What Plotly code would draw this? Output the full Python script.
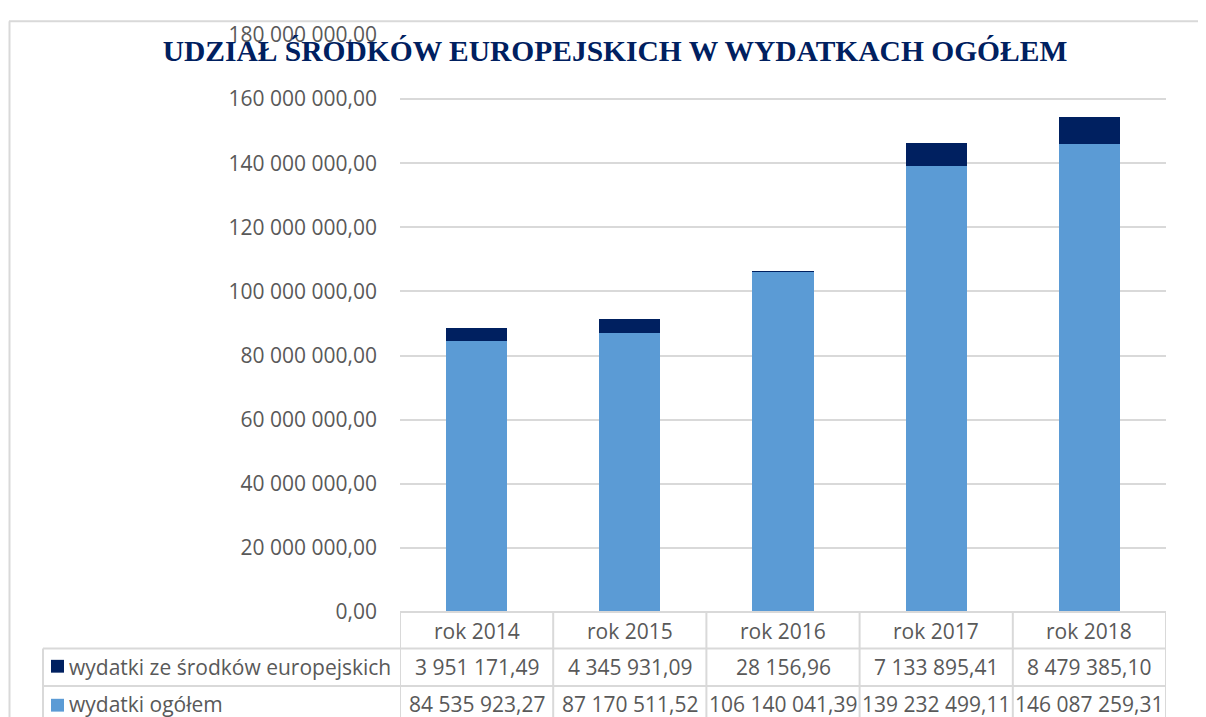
import plotly.graph_objects as go

categories = ["rok 2014", "rok 2015", "rok 2016", "rok 2017", "rok 2018"]
eu_values = [3951171.49, 4345931.09, 28156.96, 7133895.41, 8479385.10]
total_values = [84535923.27, 87170511.52, 106140041.39, 139232499.11, 146087259.31]
series_names = ["wydatki ze środków europejskich", "wydatki ogółem"]
title_text = "UDZIAŁ ŚRODKÓW EUROPEJSKICH W WYDATKACH OGÓŁEM"

C_EU = "#002060"
C_TOT = "#5B9BD5"
GRID = "#D9D9D9"
TXT = "#595959"
FONT = "Open Sans"
FS = 21

# the page puts the figure 8px in from the top-left corner of the window
OFF = 8
W, H = 1206, 717
PL, PR, PT, PB = 400 - OFF, 1166 - OFF, 27 - OFF, 612 - OFF  # plot area in figure px
ML, MR, MT, MB = PL, W - PR, PT, H - PB
PH = PB - PT
PW = PR - PL


def py(ref_y):
    # reference-window pixel y -> paper y
    return (PB - (ref_y - OFF)) / PH


def px(ref_x):
    return ((ref_x - OFF) - PL) / PW


def fmt(v):
    return f"{v:,.2f}".replace(",", " ").replace(".", ",")


fig = go.Figure()
fig.add_trace(go.Bar(x=categories, y=total_values, name=series_names[1],
                     marker=dict(color=C_TOT, line=dict(width=0)), width=0.4))
fig.add_trace(go.Bar(x=categories, y=eu_values, name=series_names[0],
                     marker=dict(color=C_EU, line=dict(width=0)), width=0.4))

shapes = []
annotations = []
n = len(categories)
line = dict(color=GRID, width=2)

# outer chart border
shapes.append(dict(type="line", xref="paper", yref="paper", x0=px(9), x1=px(W + 20),
                   y0=py(13), y1=py(13), line=line))
shapes.append(dict(type="line", xref="paper", yref="paper", x0=px(9.5), x1=px(9.5),
                   y0=py(13), y1=py(H + 20), line=line))

# data table grid
y_top, y_r1, y_r2, y_bot = py(612), py(649), py(687), py(H + 20)
x_left = px(43)
shapes.append(dict(type="line", xref="x", yref="paper", x0=-0.5, x1=n - 0.5,
                   y0=y_top, y1=y_top, line=line))
for yy in (y_r1, y_r2):
    shapes.append(dict(type="line", xref="paper", yref="paper", x0=x_left, x1=1,
                       y0=yy, y1=yy, line=line))
for i in range(n + 1):
    shapes.append(dict(type="line", xref="x", yref="paper", x0=i - 0.5, x1=i - 0.5,
                       y0=y_top, y1=y_bot, line=line))
shapes.append(dict(type="line", xref="paper", yref="paper", x0=x_left, x1=x_left,
                   y0=y_r1, y1=y_bot, line=line))

# legend keys
for yc, col in ((667, C_EU), (706.5, C_TOT)):
    shapes.append(dict(type="rect", xref="paper", yref="paper", x0=px(51), x1=px(64),
                       y0=py(yc - 6.5), y1=py(yc + 6.5), fillcolor=col, line=dict(width=0)))

font = dict(family=FONT, size=FS, color=TXT)
row_y = {"cat": py(631), "eu": py(668), "tot": py(705)}
for i, c in enumerate(categories):
    annotations.append(dict(x=c, y=row_y["cat"], xref="x", yref="paper", text=c,
                            showarrow=False, font=font, xanchor="center", yanchor="middle"))
    annotations.append(dict(x=c, y=row_y["eu"], xref="x", yref="paper", text=fmt(eu_values[i]),
                            showarrow=False, font=font, xanchor="center", yanchor="middle"))
    annotations.append(dict(x=c, y=row_y["tot"], xref="x", yref="paper", text=fmt(total_values[i]),
                            showarrow=False, font=font, xanchor="center", yanchor="middle"))
annotations.append(dict(x=px(67), y=row_y["eu"], xref="paper", yref="paper", text=series_names[0],
                        showarrow=False, font=font, xanchor="left", yanchor="middle"))
annotations.append(dict(x=px(67), y=row_y["tot"], xref="paper", yref="paper", text=series_names[1],
                        showarrow=False, font=font, xanchor="left", yanchor="middle"))

fig.update_layout(
    width=W, height=H,
    margin=dict(l=ML, r=MR, t=MT, b=MB),
    paper_bgcolor="white", plot_bgcolor="white",
    barmode="stack",
    showlegend=False,
    title=dict(text=title_text, x=(615 - OFF) / W, xanchor="center",
               y=1 - (51 - OFF) / H, yanchor="middle",
               xref="container", yref="container",
               font=dict(family="Liberation Serif", size=29.5, color=C_EU, weight="bold")),
    xaxis=dict(showticklabels=False, showgrid=False, zeroline=False, showline=False,
               range=[-0.5, n - 0.5], ticks=""),
    yaxis=dict(range=[0, 180000000], dtick=20000000, tickformat=",.2f",
               showgrid=True, gridcolor=GRID, gridwidth=2, zeroline=False, showline=False,
               ticks="", ticklabelstandoff=22, tickfont=font),
    separators=", ",
    shapes=shapes,
    annotations=annotations,
)

fig.write_html("out.html")
